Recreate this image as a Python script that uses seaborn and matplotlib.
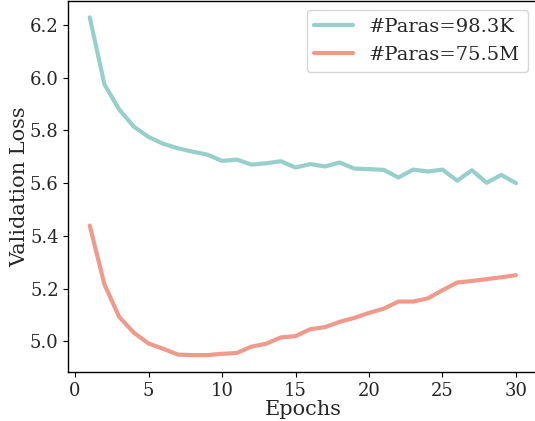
import numpy as np
import pandas as pd
import matplotlib
matplotlib.use("Agg")
import matplotlib.pyplot as plt
import seaborn as sns

epochs = list(range(1, 31))
loss_small = [6.228, 5.974, 5.879, 5.814, 5.775, 5.749, 5.732, 5.719, 5.708, 5.684,
              5.689, 5.670, 5.675, 5.683, 5.659, 5.672, 5.663, 5.678, 5.655, 5.653,
              5.650, 5.621, 5.651, 5.644, 5.651, 5.609, 5.649, 5.601, 5.631, 5.600]
loss_large = [5.439, 5.216, 5.093, 5.033, 4.992, 4.972, 4.950, 4.948, 4.948, 4.953,
              4.956, 4.980, 4.991, 5.015, 5.020, 5.046, 5.054, 5.074, 5.089, 5.108,
              5.124, 5.151, 5.151, 5.163, 5.194, 5.223, 5.229, 5.236, 5.243, 5.251]
labels = ["#Paras=98.3K", "#Paras=75.5M"]
colors = ["#96cfcc", "#f09a8c"]

df = pd.DataFrame({
    "Epochs": epochs * 2,
    "Validation Loss": loss_small + loss_large,
    "model": [labels[0]] * len(epochs) + [labels[1]] * len(epochs),
})

sns.set_style("white")
plt.rcParams["font.family"] = ["DejaVu Serif"]
plt.rcParams["mathtext.fontset"] = "dejavuserif"

fig = plt.figure(figsize=(5.35, 4.21), dpi=100)
ax = fig.add_axes([0.1279, 0.1164, 0.8764, 0.8824])
sns.lineplot(data=df, x="Epochs", y="Validation Loss", hue="model",
             palette=colors, linewidth=3, ax=ax)

ax.set_xticks([0, 5, 10, 15, 20, 25, 30])
ax.set_yticks([5.0, 5.2, 5.4, 5.6, 5.8, 6.0, 6.2])
ax.tick_params(axis="both", which="major", labelsize=13, length=3.5, width=0.8,
               bottom=True, left=True, direction="out", color="black")
ax.set_xlabel("Epochs", fontsize=15, labelpad=0.5)
ax.set_ylabel("Validation Loss", fontsize=15, labelpad=0.5)
for s in ax.spines.values():
    s.set_color("black")
    s.set_linewidth(1.0)
ax.legend(loc="upper right", fontsize=14, frameon=True, title=None)

fig.savefig("out.png", dpi=100)
